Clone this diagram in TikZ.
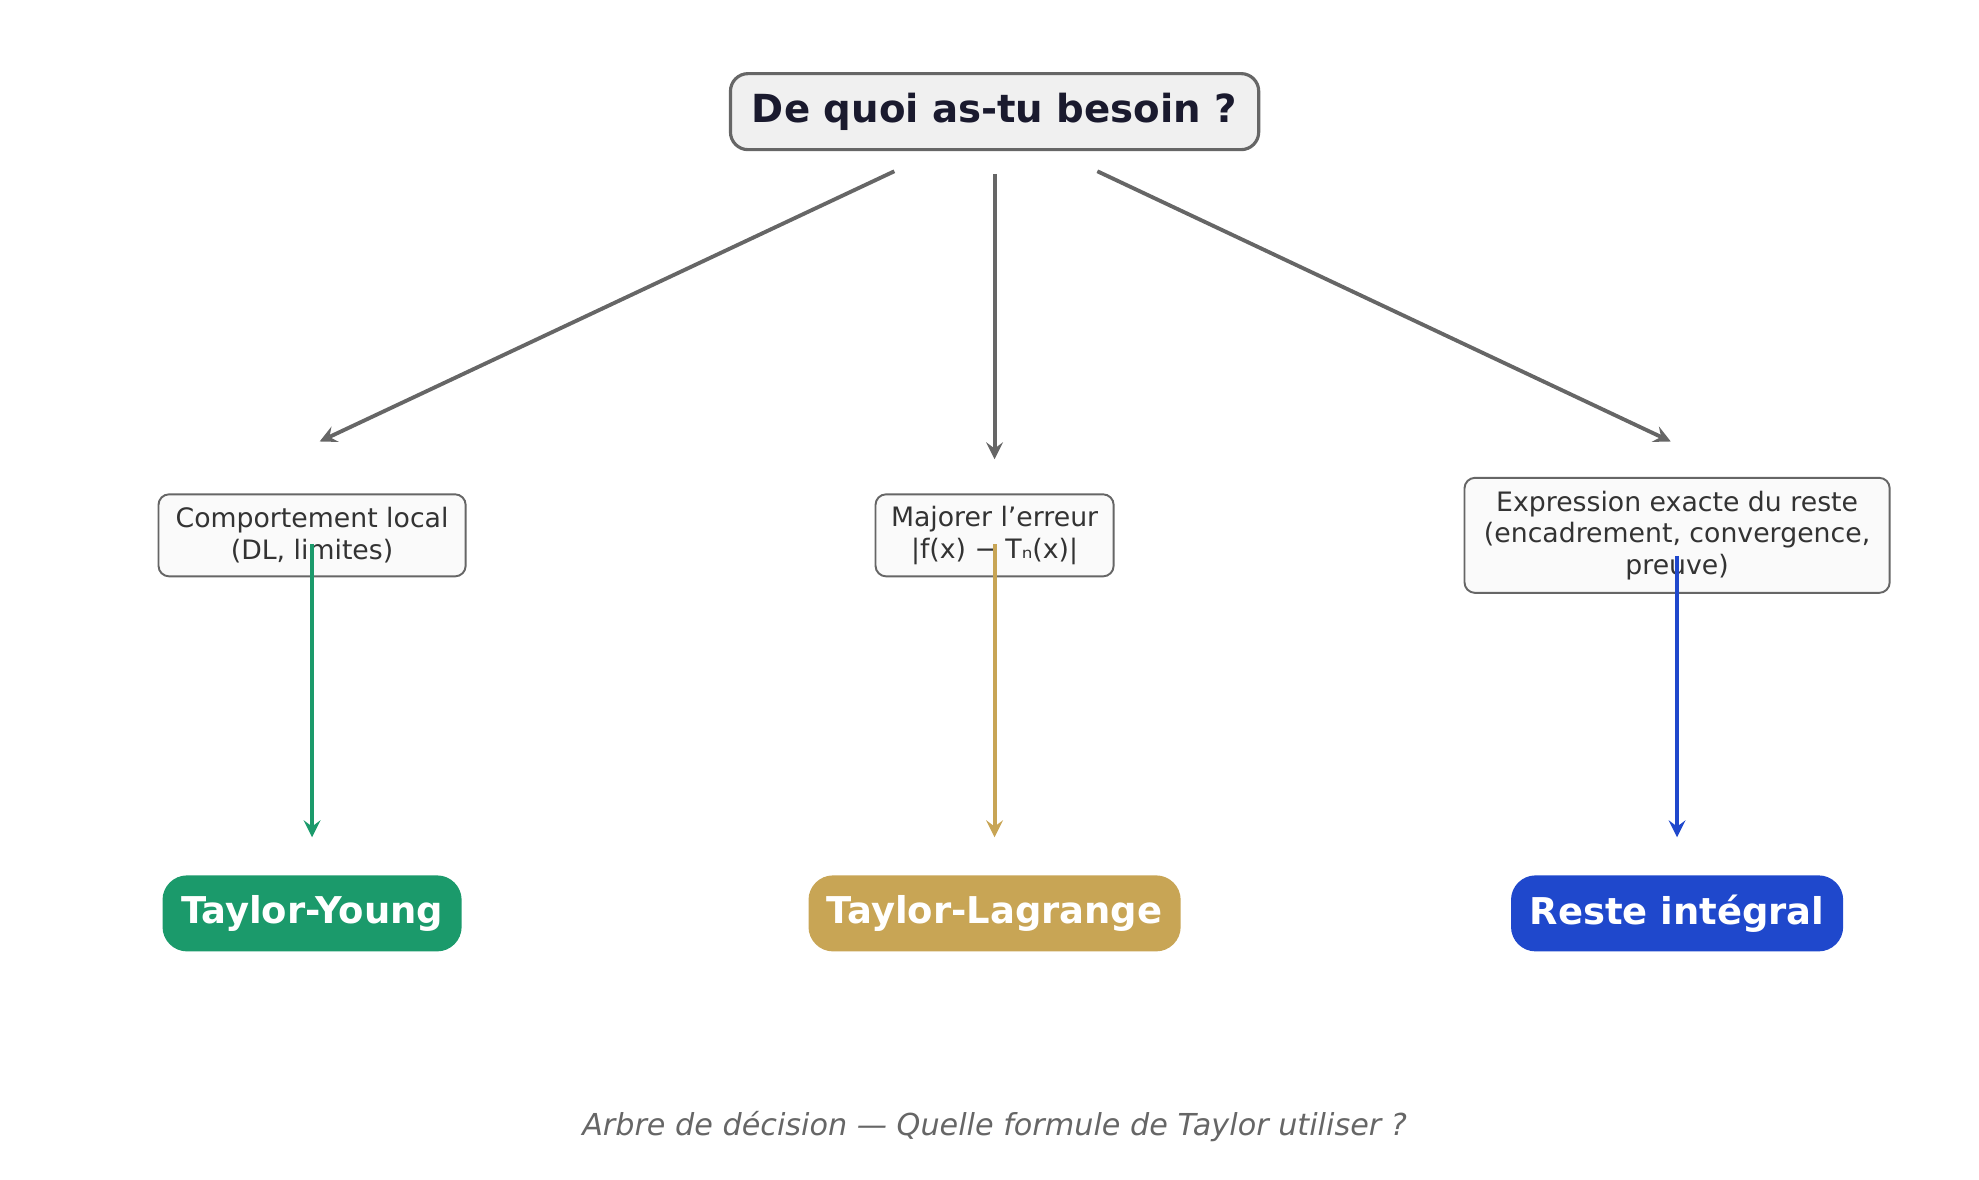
\documentclass[tikz,border=0pt]{standalone}
\usepackage{fontspec}
\setmainfont{DejaVu Sans}
\usetikzlibrary{positioning}
\definecolor{edgegray}{HTML}{666666}
\definecolor{titleink}{HTML}{1A1A2E}
\definecolor{youngc}{HTML}{1B9A6B}
\definecolor{lagrc}{HTML}{C8A555}
\definecolor{restec}{HTML}{1F48CC}
\tikzset{
  question/.style={draw=edgegray,line width=.9pt,fill=black!6,rounded corners=5pt,
    text=titleink,font=\fontsize{11}{13}\selectfont\bfseries,inner sep=0pt,
    minimum width=5.28cm,minimum height=.76cm},
  need/.style={draw=edgegray,line width=.55pt,fill=black!2,rounded corners=3pt,
    text=black!80,font=\fontsize{7.6}{9}\selectfont,align=center,inner sep=0pt},
  formula/.style={rounded corners=7pt,text=white,font=\fontsize{10.5}{12}\selectfont\bfseries,
    inner sep=0pt,minimum height=.76cm},
  branch/.style={->,>=stealth,line width=1.1pt,edgegray},
}
\begin{document}
\begin{tikzpicture}[x=0.012686cm,y=-0.012686cm]
  \useasboundingbox (0,0) rectangle (1560,930);
  \node[question] (top) at (784,88) {De quoi as-tu besoin ?};
  \node[need,minimum width=3.07cm,minimum height=.82cm] (local) at (246,422) {Comportement local\\(DL, limites)};
  \node[need,minimum width=2.38cm,minimum height=.82cm] (erreur) at (784,422) {Majorer l'erreur\\|f(x) − Tₙ(x)|};
  \node[need,minimum width=4.25cm,minimum height=1.15cm] (reste) at (1322,422) {Expression exacte du reste\\(encadrement, convergence,\\preuve)};
  \node[formula,fill=youngc,minimum width=2.99cm] (young) at (246,720) {Taylor-Young};
  \node[formula,fill=lagrc,minimum width=3.72cm] (lagrange) at (784,720) {Taylor-Lagrange};
  \node[formula,fill=restec,minimum width=3.32cm] (integral) at (1322,720) {Reste intégral};
  \node[text=edgegray,font=\fontsize{8.6}{10}\selectfont\itshape] (caption) at (784,888) {Arbre de décision — Quelle formule de Taylor utiliser ?};
  % gray branches
  \coordinate (sL) at (705,135); \coordinate (eL) at (252,348);
  \coordinate (sM) at (784,137); \coordinate (eM) at (784,362);
  \coordinate (sR) at (865,135); \coordinate (eR) at (1317,348);
  \draw[branch] (sL) -- (eL);
  \draw[branch] (sM) -- (eM);
  \draw[branch] (sR) -- (eR);
  % coloured arrows
  \draw[branch,youngc] (local.south) ++(0,-26) coordinate (a1) -- (246,660) coordinate (b1);
  \draw[branch,lagrc] (erreur.south) ++(0,-26) -- (784,660);
  \draw[branch,restec] (reste.south) ++(0,-30) -- (1322,660);
\end{tikzpicture}
\end{document}
